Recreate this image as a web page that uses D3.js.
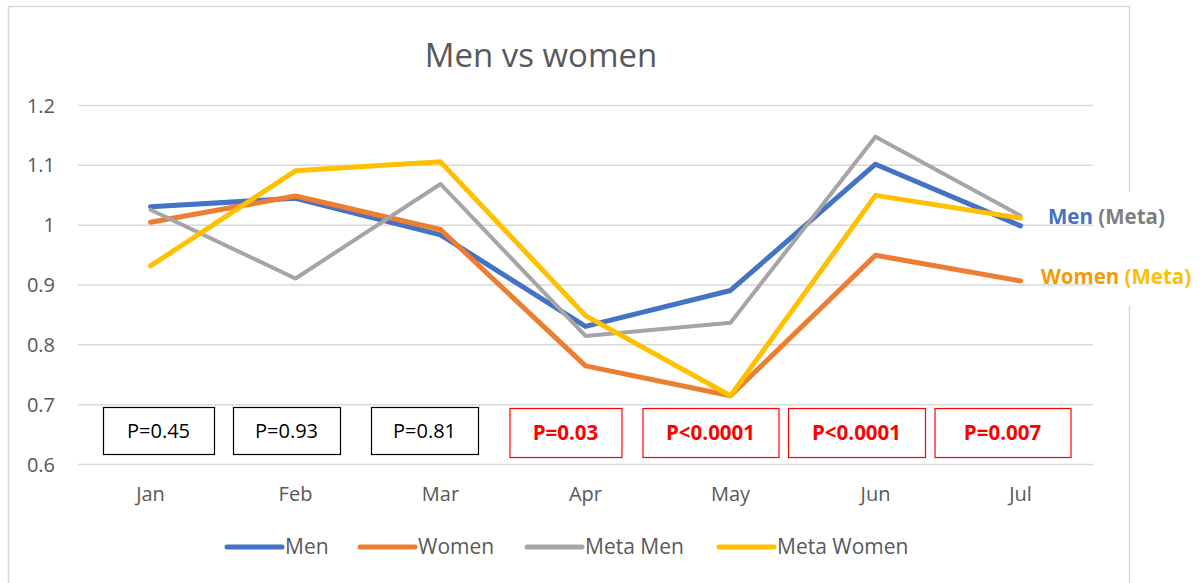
<!DOCTYPE html>
<html>
<head>
<meta charset="utf-8">
<script src="https://cdn.jsdelivr.net/npm/d3@7"></script>
<style>
  html, body { margin: 0; padding: 0; background: #fff; }
  svg text { font-family: "Open Sans", Lato, sans-serif; }
</style>
</head>
<body>
<svg id="chart" width="1202" height="583"></svg>
<script>
// Chart data
const months = ["Jan", "Feb", "Mar", "Apr", "May", "Jun", "Jul"];
const men = [1.030, 1.044, 0.983, 0.830, 0.890, 1.101, 0.998];
const women = [1.004, 1.048, 0.992, 0.764, 0.714, 0.949, 0.906];
const metaMen = [1.025, 0.910, 1.068, 0.814, 0.836, 1.147, 1.015];
const metaWomen = [0.931, 1.090, 1.105, 0.848, 0.714, 1.049, 1.011];
const yTicks = [0.6, 0.7, 0.8, 0.9, 1.0, 1.1, 1.2];
const pValues = ["P=0.45", "P=0.93", "P=0.81", "P=0.03", "P<0.0001", "P<0.0001", "P=0.007"];
const pSignificant = [false, false, false, true, true, true, true];

const series = [
  { name: "Men", values: men, color: "#4472C4", width: 5 },
  { name: "Women", values: women, color: "#ED7D31", width: 5 },
  { name: "Meta Men", values: metaMen, color: "#A5A5A5", width: 4 },
  { name: "Meta Women", values: metaWomen, color: "#FFC000", width: 5 }
];

const svg = d3.select("#chart");
const plot = { left: 78, right: 1093, top: 105, bottom: 464 };

// chart frame (partly hidden behind the right-hand labels)
svg.append("path")
  .attr("d", "M8.5,583 V6.5 H1129.5 V192 M1129.5,306 V583")
  .attr("fill", "none")
  .attr("stroke", "#d9d9d9")
  .attr("stroke-width", 1.5);

const x = d3.scaleBand().domain(months).range([plot.left, plot.right]);
const y = d3.scaleLinear().domain([0.6, 1.2]).range([plot.bottom, plot.top]);

// title
svg.append("text")
  .attr("x", 541).attr("y", 67)
  .attr("text-anchor", "middle")
  .attr("fill", "#595959")
  .style("font-size", "33px")
  .text("Men vs women");

// gridlines + y labels
const yAxis = d3.axisLeft(y).tickValues(yTicks)
  .tickFormat(d => d === 1 ? "1" : d3.format(".1f")(d))
  .tickSize(-(plot.right - plot.left)).tickPadding(23);

const gy = svg.append("g")
  .attr("transform", `translate(${plot.left},0)`)
  .call(yAxis);
gy.select(".domain").remove();
gy.selectAll(".tick line").attr("stroke", "#d9d9d9").attr("stroke-width", 1.5);
gy.selectAll(".tick text")
  .attr("fill", "#595959")
  .style("font-size", "20px")
  .attr("dy", "0.35em");

// x axis labels
const xAxis = d3.axisBottom(x).tickSize(0).tickPadding(23);
const gx = svg.append("g")
  .attr("transform", `translate(0,${plot.bottom})`)
  .call(xAxis);
gx.select(".domain").remove();
gx.selectAll(".tick text")
  .attr("fill", "#595959")
  .style("font-size", "20px");

// lines
const line = d3.line()
  .x((d, i) => x(months[i]) + x.bandwidth() / 2)
  .y(d => y(d));

svg.append("g").selectAll("path")
  .data(series)
  .join("path")
  .attr("d", d => line(d.values))
  .attr("fill", "none")
  .attr("stroke", d => d.color)
  .attr("stroke-width", d => d.width)
  .attr("stroke-linejoin", "round")
  .attr("stroke-linecap", "round");

// p-value boxes under each month
const boxWidths = [111, 107, 107, 112, 136, 137, 136];
const boxShift = [8, -9, -16, -20, -20, -19, -18];

const boxes = svg.append("g").selectAll("g")
  .data(pValues)
  .join("g")
  .attr("transform", (d, i) => {
    const cx = x(months[i]) + x.bandwidth() / 2 + boxShift[i];
    return `translate(${cx},${pSignificant[i] ? 408 : 407})`;
  });

boxes.append("rect")
  .attr("x", (d, i) => -boxWidths[i] / 2 + 0.5)
  .attr("y", 0.5)
  .attr("width", (d, i) => boxWidths[i])
  .attr("height", (d, i) => pSignificant[i] ? 49 : 47)
  .attr("fill", "#fff")
  .attr("stroke", (d, i) => pSignificant[i] ? "#ff0000" : "#000")
  .attr("stroke-width", 1.2);

boxes.append("text")
  .attr("x", 0)
  .attr("y", (d, i) => pSignificant[i] ? 32 : 31)
  .attr("text-anchor", "middle")
  .attr("fill", (d, i) => pSignificant[i] ? "#ff0000" : "#000")
  .style("font-size", (d, i) => pSignificant[i] ? "20.5px" : "20px")
  .style("font-weight", (d, i) => pSignificant[i] ? "bold" : "normal")
  .text(d => d);

// right-hand labels
const lab1 = svg.append("text")
  .attr("x", 1048).attr("y", 224)
  .style("font-size", "20.5px")
  .style("font-weight", "bold");
lab1.append("tspan").attr("fill", "#4472C4").text("Men ");
lab1.append("tspan").attr("fill", "#7F7F7F").text("(Meta)");

const lab2 = svg.append("text")
  .attr("x", 1041).attr("y", 284)
  .style("font-size", "20.5px")
  .style("font-weight", "bold");
lab2.append("tspan").attr("fill", "#F59B00").text("Women ");
lab2.append("tspan").attr("fill", "#FFC000").text("(Meta)");

// legend
const legendX = [225, 358, 525, 717];
const legend = svg.append("g").selectAll("g")
  .data(series)
  .join("g")
  .attr("transform", (d, i) => `translate(${legendX[i]},547)`);

legend.append("line")
  .attr("x1", 2).attr("x2", 57)
  .attr("stroke", d => d.color)
  .attr("stroke-width", 5)
  .attr("stroke-linecap", "round");

legend.append("text")
  .attr("x", 60).attr("y", 0)
  .attr("dy", "0.35em")
  .attr("fill", "#595959")
  .style("font-size", "21px")
  .text(d => d.name);
</script>
</body>
</html>
